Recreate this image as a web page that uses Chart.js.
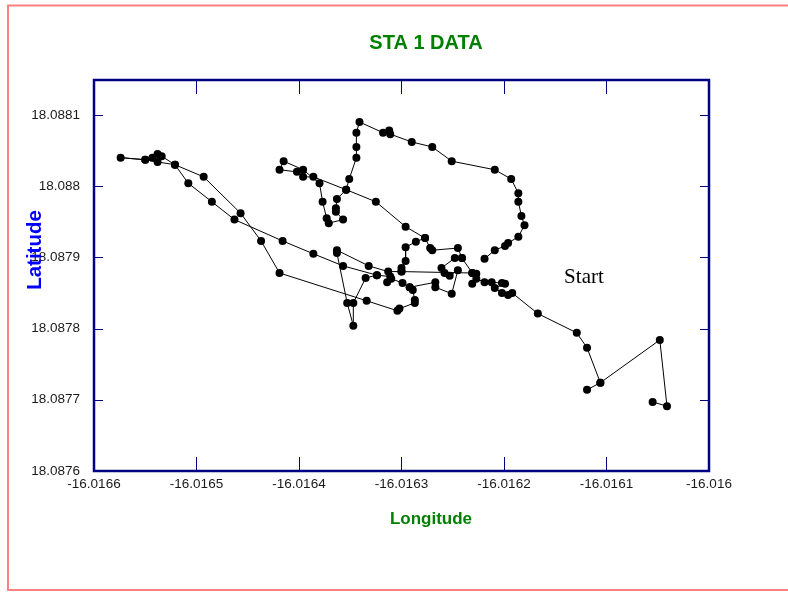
<!DOCTYPE html>
<html>
<head>
<meta charset="utf-8">
<script src="https://cdn.jsdelivr.net/npm/chart.js@4.4.1/dist/chart.umd.min.js"></script>
<style>
  html, body { margin: 0; padding: 0; background: #ffffff; }
  canvas { display: block; }
</style>
</head>
<body>
<canvas id="c" width="788" height="592"></canvas>
<script>
// ---- texts ----
const chartTitle = 'STA 1 DATA';
const xAxisTitle = 'Longitude';
const yAxisTitle = 'Latitude';
const startLabel = 'Start';
const startLabelLon = -16.016122;
const startLabelLat = 18.087864;

// ---- axes ----
const xMin = -16.0166, xMax = -16.016;
const yMin = 18.0876, yMax = 18.088149;
const xTickValues = [-16.0166, -16.0165, -16.0164, -16.0163, -16.0162, -16.0161, -16.016];
const xTickLabels = ['-16.0166', '-16.0165', '-16.0164', '-16.0163', '-16.0162', '-16.0161', '-16.016'];
const yTickValues = [18.0876, 18.0877, 18.0878, 18.0879, 18.088, 18.0881];
const yTickLabels = ['18.0876', '18.0877', '18.0878', '18.0879', '18.088', '18.0881'];

// ---- track segments (longitude / latitude) ----
const seg1Lon = [-16.016055, -16.016041, -16.016048, -16.016106, -16.016119];
const seg1Lat = [18.087697, 18.087691, 18.087784, 18.087724, 18.087714];

const seg2Lon = [-16.016106, -16.016119, -16.016129, -16.016167, -16.016192, -16.016196, -16.016202, -16.016209,
  -16.016199, -16.016202, -16.016212, -16.016219, -16.016227, -16.016231, -16.016227, -16.016231,
  -16.016241, -16.016245, -16.016270, -16.016272, -16.016277, -16.016296, -16.016325, -16.016354,
  -16.016386, -16.016396, -16.016402, -16.016419, -16.016415, -16.016396, -16.016380, -16.016377,
  -16.016373, -16.016371, -16.016357, -16.016364, -16.016364, -16.016363, -16.016354, -16.016351,
  -16.016344, -16.016344, -16.016344, -16.016341, -16.016318, -16.016312, -16.016311, -16.016290,
  -16.016270, -16.016251, -16.016209, -16.016193, -16.016186, -16.016186, -16.016183, -16.016180,
  -16.016186, -16.016196, -16.016199, -16.016209, -16.016219];
const seg2Lat = [18.087724, 18.087773, 18.087794, 18.087821, 18.087850, 18.087847, 18.087850, 18.087857,
  18.087863, 18.087864, 18.087865, 18.087865, 18.087870, 18.087863, 18.087877, 18.087878,
  18.087899, 18.087913, 18.087910, 18.087913, 18.087927, 18.087943, 18.087978, 18.087995,
  18.088013, 18.088013, 18.088020, 18.088023, 18.088035, 18.088023, 18.088004, 18.087978,
  18.087955, 18.087948, 18.087953, 18.087964, 18.087969, 18.087982, 18.087995, 18.088010,
  18.088040, 18.088055, 18.088075, 18.088090, 18.088075, 18.088078, 18.088073, 18.088062,
  18.088055, 18.088035, 18.088023, 18.088010, 18.087990, 18.087978, 18.087958, 18.087945,
  18.087929, 18.087920, 18.087916, 18.087910, 18.087898];

const seg3Lon = [-16.016241, -16.016248, -16.016261, -16.016258, -16.016253, -16.016245, -16.016251, -16.016267,
  -16.016267, -16.016292, -16.016299, -16.016310, -16.016314, -16.016311, -16.016324, -16.016357,
  -16.016386, -16.016416, -16.016463, -16.016485, -16.016508, -16.016521, -16.016538, -16.016550,
  -16.016574, -16.016550, -16.016543, -16.016538, -16.016534, -16.016521, -16.016493, -16.016457,
  -16.016437, -16.016419, -16.016334, -16.016304, -16.016302, -16.016287, -16.016287, -16.016289,
  -16.016292];
const seg3Lat = [18.087899, 18.087899, 18.087885, 18.087878, 18.087874, 18.087882, 18.087849, 18.087858,
  18.087865, 18.087858, 18.087864, 18.087870, 18.087865, 18.087873, 18.087875, 18.087888,
  18.087905, 18.087923, 18.087953, 18.087978, 18.088004, 18.088030, 18.088034, 18.088037,
  18.088040, 18.088037, 18.088040, 18.088045, 18.088042, 18.088030, 18.088013, 18.087962,
  18.087923, 18.087878, 18.087839, 18.087825, 18.087828, 18.087836, 18.087840, 18.087854,
  18.087858];

const seg4Lon = [-16.016277, -16.016286, -16.016296, -16.016296, -16.016300, -16.016300, -16.016231];
const seg4Lat = [18.087927, 18.087922, 18.087914, 18.087895, 18.087885, 18.087880, 18.087878];

const seg5Lon = [-16.016300, -16.016313, -16.016332, -16.016363, -16.016363, -16.016353, -16.016347, -16.016347,
  -16.016335, -16.016324];
const seg5Lat = [18.087880, 18.087880, 18.087888, 18.087910, 18.087906, 18.087836, 18.087804, 18.087836,
  18.087871, 18.087875];

const segments = [[seg1Lon, seg1Lat], [seg2Lon, seg2Lat], [seg3Lon, seg3Lat], [seg4Lon, seg4Lat], [seg5Lon, seg5Lat]];

const SANS = "'Liberation Sans', Arial, Helvetica, sans-serif";

const datasets = segments.map(([lons, lats], i) => ({
  label: 'Track ' + (i + 1),
  data: lons.map((v, k) => ({ x: v, y: lats[k] })),
  showLine: true,
  borderColor: '#000000',
  borderWidth: 1,
  pointRadius: 4,
  pointBackgroundColor: '#000000',
  pointBorderColor: '#000000',
  pointBorderWidth: 0,
  tension: 0
}));

const decorPlugin = {
  id: 'decor',
  afterDatasetsDraw(chart) {
    const { ctx, chartArea: a, scales: { x, y } } = chart;
    ctx.save();
    ctx.strokeStyle = '#000080';
    ctx.lineWidth = 1;
    ctx.beginPath();
    xTickValues.slice(1, -1).forEach(v => {
      const px = Math.round(x.getPixelForValue(v)) + 0.5;
      ctx.moveTo(px, a.top); ctx.lineTo(px, a.top + 14);
      ctx.moveTo(px, a.bottom); ctx.lineTo(px, a.bottom - 14);
    });
    yTickValues.slice(1).forEach(v => {
      const py = Math.round(y.getPixelForValue(v)) + 0.5;
      ctx.moveTo(a.left, py); ctx.lineTo(a.left + 9, py);
      ctx.moveTo(a.right, py); ctx.lineTo(a.right - 9, py);
    });
    ctx.stroke();
    ctx.lineWidth = 2.5;
    ctx.strokeRect(a.left, a.top, a.right - a.left, a.bottom - a.top);
    ctx.restore();
  },
  afterDraw(chart) {
    const { ctx, scales: { x, y } } = chart;
    ctx.save();
    // outer frame
    ctx.strokeStyle = '#ff8080';
    ctx.lineWidth = 2;
    ctx.strokeRect(8, 5.5, 900, 584.5);
    // title
    ctx.fillStyle = '#008000';
    ctx.font = 'bold 20px ' + SANS;
    ctx.textAlign = 'center';
    ctx.textBaseline = 'alphabetic';
    ctx.fillText(chartTitle, 426, 49);
    // x axis title
    ctx.font = 'bold 17px ' + SANS;
    ctx.fillText(xAxisTitle, 431, 523.5);
    // y axis title
    ctx.fillStyle = '#0000ff';
    ctx.font = 'bold 20.5px ' + SANS;
    ctx.translate(41, 250);
    ctx.rotate(-Math.PI / 2);
    ctx.fillText(yAxisTitle, 0, 0);
    ctx.setTransform(1, 0, 0, 1, 0, 0);
    // Start label
    ctx.fillStyle = '#000000';
    ctx.font = "21px 'Liberation Serif', 'Times New Roman', serif";
    ctx.textAlign = 'center';
    ctx.fillText(startLabel, x.getPixelForValue(startLabelLon), y.getPixelForValue(startLabelLat));
    ctx.restore();
  }
};

new Chart(document.getElementById('c'), {
  type: 'scatter',
  data: { datasets },
  options: {
    responsive: false,
    devicePixelRatio: 1,
    animation: false,
    layout: { padding: { top: 80, left: 0, right: 79, bottom: 0 } },
    plugins: {
      legend: { display: false },
      tooltip: { enabled: false },
      title: { display: false }
    },
    scales: {
      x: {
        type: 'linear',
        min: xMin,
        max: xMax,
        grid: { display: false, drawTicks: false },
        border: { display: false },
        afterFit(scale) { scale.height = 121; },
        afterBuildTicks(scale) { scale.ticks = xTickValues.map(v => ({ value: v })); },
        ticks: {
          autoSkip: false,
          maxRotation: 0,
          minRotation: 0,
          padding: 5,
          color: '#1a1a1a',
          font: { family: SANS, size: 13.5 },
          callback: (v, i) => xTickLabels[i]
        }
      },
      y: {
        type: 'linear',
        min: yMin,
        max: yMax,
        grid: { display: false, drawTicks: false },
        border: { display: false },
        afterFit(scale) { scale.width = 94; },
        afterBuildTicks(scale) { scale.ticks = yTickValues.map(v => ({ value: v })); },
        ticks: {
          autoSkip: false,
          padding: 14,
          color: '#1a1a1a',
          font: { family: SANS, size: 13.5 },
          callback: (v, i) => yTickLabels[i]
        }
      }
    }
  },
  plugins: [decorPlugin]
});
</script>
</body>
</html>
